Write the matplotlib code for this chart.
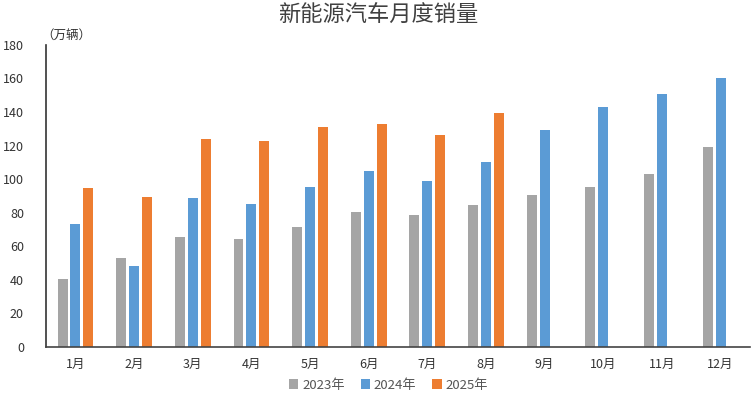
import matplotlib
matplotlib.use("Agg")
import matplotlib.pyplot as plt
import numpy as np

plt.rcParams['font.family'] = ['Noto Sans CJK SC', 'DejaVu Sans']

months = ["1月", "2月", "3月", "4月", "5月", "6月", "7月", "8月", "9月", "10月", "11月", "12月"]
sales_2023 = [40.5, 53.0, 65.5, 64.5, 71.5, 80.5, 78.5, 84.5, 90.5, 95.5, 103.0, 119.0]
sales_2024 = [73.0, 48.0, 88.5, 85.0, 95.5, 105.0, 99.0, 110.0, 129.0, 143.0, 151.0, 160.0]
sales_2025 = [94.5, 89.5, 124.0, 123.0, 131.0, 133.0, 126.5, 139.5]
series_labels = ["2023年", "2024年", "2025年"]
colors = ["#A5A5A5", "#5B9BD5", "#ED7D31"]
yticks = [0, 20, 40, 60, 80, 100, 120, 140, 160, 180]

fig = plt.figure(figsize=(7.56, 3.97), dpi=100)
ax = fig.add_axes([0.061, 0.126, 0.931, 0.761])

x = np.arange(len(months))
w = 0.17
off = 0.22
ax.bar(x - off, sales_2023, width=w, color=colors[0], label=series_labels[0])
ax.bar(x, sales_2024, width=w, color=colors[1], label=series_labels[1])
ax.bar(np.arange(len(sales_2025)) + off, sales_2025, width=w, color=colors[2], label=series_labels[2])

ax.set_xlim(-0.5, len(months) - 0.5)
ax.set_ylim(0, 180)
ax.set_yticks(yticks)
ax.set_xticks(x)
ax.set_xticklabels(months)
ax.tick_params(axis='both', length=0, labelsize=9, colors='#333333')
ax.tick_params(axis='y', pad=16)
ax.tick_params(axis='x', pad=8)
for s in ['top', 'right']:
    ax.spines[s].set_visible(False)
ax.spines['left'].set_color('#333333')
ax.spines['bottom'].set_color('#444444')
ax.spines['left'].set_linewidth(1.2)
ax.spines['bottom'].set_linewidth(1.2)

fig.text(0.5, 0.96, "新能源汽车月度销量", ha='center', va='center', fontsize=16, color='#404040')
fig.text(0.055, 0.91, "（万辆）", ha='left', va='center', fontsize=9, color='#333333')

leg = fig.legend(loc='center', bbox_to_anchor=(0.514, 0.03), ncol=3, frameon=False,
                 fontsize=9.5, handlelength=0.7, handleheight=0.7, handletextpad=0.3,
                 columnspacing=1.2)
for t in leg.get_texts():
    t.set_color('#555555')

fig.savefig("out.png", dpi=100)
